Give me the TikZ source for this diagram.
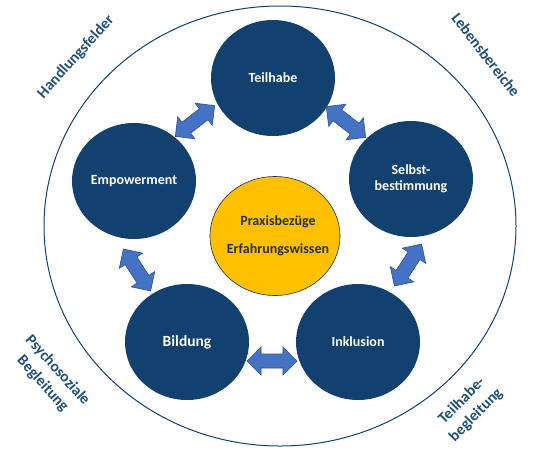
\documentclass[tikz,border=0pt]{standalone}
\usepackage{fontspec}
\setmainfont{Carlito}
\usetikzlibrary{shapes.geometric}
\definecolor{navy}{HTML}{12406F}
\definecolor{labelblue}{HTML}{1F4E79}
\definecolor{gold}{HTML}{FFC000}
\definecolor{arrowblue}{HTML}{4472C4}
\definecolor{arrowedge}{HTML}{2F528F}
\definecolor{darktext}{HTML}{22303C}
\begin{document}
\begin{tikzpicture}[x=1pt,y=-1pt,
  topic/.style={ellipse, fill=navy, minimum width=124pt, minimum height=116pt,
    inner sep=0pt, text=white, align=center,
    font=\bfseries\fontsize{14}{15.5}\selectfont},
  core/.style={ellipse, fill=gold, draw=darktext, line width=0.6pt,
    minimum width=130pt, minimum height=119pt, inner sep=0pt, text=darktext,
    align=center, font=\bfseries\fontsize{14}{16.5}\selectfont},
  outerlabel/.style={text=labelblue, align=center, inner sep=0pt,
    font=\bfseries\fontsize{15.5}{20}\selectfont},
  ring/.style={ellipse, draw=navy, line width=1pt, minimum width=472pt,
    minimum height=440pt, inner sep=0pt},
  dblarrow/.pic={\filldraw[fill=arrowblue, draw=arrowedge, line width=0.6pt]
    (-25,0) -- (-11,14) -- (-11,7) -- (11,7) -- (11,14) -- (25,0)
    -- (11,-14) -- (11,-7) -- (-11,-7) -- (-11,-14) -- cycle;}
]
\useasboundingbox (0,0) rectangle (545,455);
\node[ring] (outer) at (280,226) {};

\node[topic] (teil) at (273,78) {Teilhabe};
\node[topic] (emp) at (134,181) {\makebox[0pt]{Empowerment}};
\node[topic] (selbst) at (411,179) {Selbst-\\bestimmung};
\node[topic, font=\bfseries\fontsize{15.5}{17}\selectfont] (bild) at (187,342) {Bildung};
\node[topic] (inkl) at (358,342) {Inklusion};
\node[core] (core) at (275,236)
  {\makebox[0pt]{\hspace*{6pt}Praxisbezüge}\\[12pt]\makebox[0pt]{\hspace*{6pt}Erfahrungswissen}};

\coordinate (a1) at (195,121);
\coordinate (a2) at (346,122);
\coordinate (a3) at (408,265);
\coordinate (a4) at (137,270);
\coordinate (a5) at (272,361);
\pic[rotate=38] at (a1) {dblarrow};
\pic[rotate=-38] at (a2) {dblarrow};
\pic[rotate=57] at (a3) {dblarrow};
\pic[rotate=-57] at (a4) {dblarrow};
\pic at (a5) {dblarrow};

\node[outerlabel, rotate=48] (l1) at (76,57) {Handlungsfelder};
\node[outerlabel, rotate=-52] (l2) at (486,55) {Lebensbereiche};
\node[outerlabel, rotate=-48] (l3) at (50,377) {Psychosoziale\\Begleitung};
\node[outerlabel, rotate=45] (l4) at (469,408) {Teilhabe-\\begleitung};
\end{tikzpicture}
\end{document}
